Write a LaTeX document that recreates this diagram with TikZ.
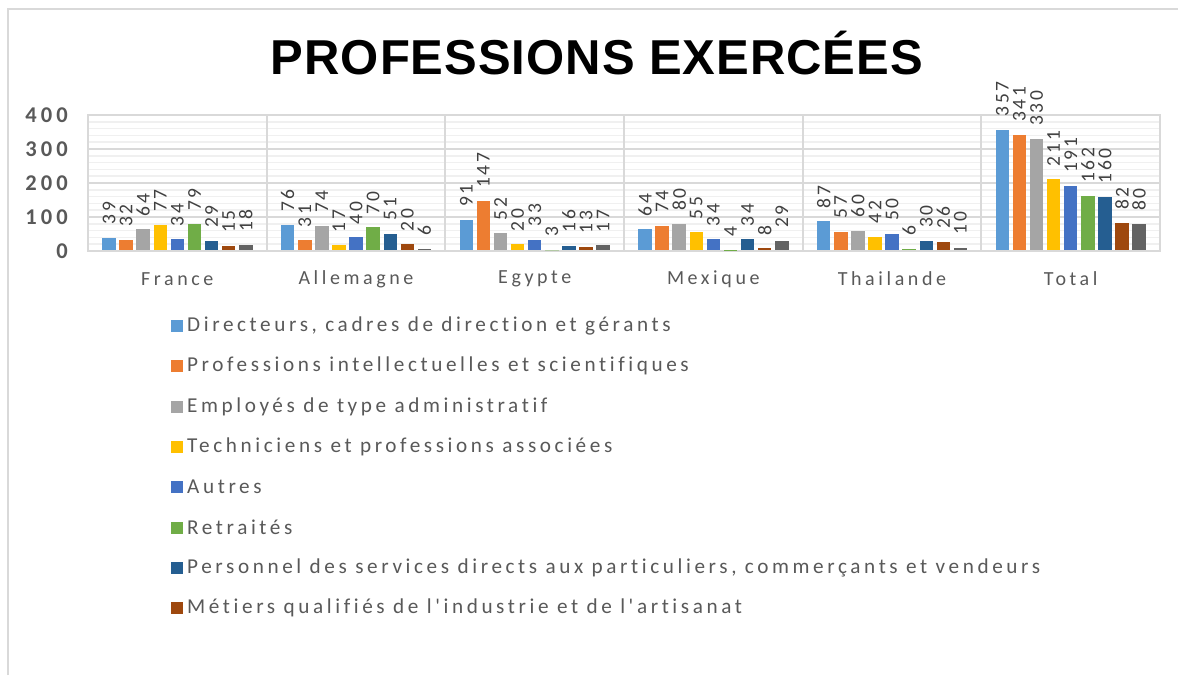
\documentclass[tikz,border=0pt]{standalone}
\usepackage{fontspec}
\setmainfont{Carlito}
\newfontfamily\titlefont{Liberation Sans}[LetterSpace=2]
\newfontfamily\lblfont{Carlito}[LetterSpace=14]
\newfontfamily\legfont{Carlito}[LetterSpace=17,Ligatures={TeXOff,NoCommon}]
\newfontfamily\axfont{Carlito}[LetterSpace=18]
\definecolor{ser0}{HTML}{5B9BD5}
\definecolor{ser1}{HTML}{ED7D31}
\definecolor{ser2}{HTML}{A5A5A5}
\definecolor{ser3}{HTML}{FFC000}
\definecolor{ser4}{HTML}{4472C4}
\definecolor{ser5}{HTML}{70AD47}
\definecolor{ser6}{HTML}{255E91}
\definecolor{ser7}{HTML}{9E480E}
\definecolor{ser8}{HTML}{636363}
\definecolor{txtgray}{HTML}{595959}
\definecolor{lblgray}{HTML}{404040}
\definecolor{majorc}{HTML}{D9D9D9}
\definecolor{minorc}{HTML}{F0F0F0}
\tikzset{
  framel/.style={draw=majorc, line width=2pt},
  majorgrid/.style={draw=majorc, line width=1.8pt},
  minorgrid/.style={draw=minorc, line width=1.6pt},
  datalbl/.style={rotate=90, anchor=west, inner sep=0pt, text=lblgray, font=\lblfont\fontsize{19.5}{19.5}\selectfont},
  axlbl/.style={anchor=east, inner sep=0pt, text=txtgray, font=\axfont\bfseries\fontsize{22.5}{22.5}\selectfont},
  catlbl/.style={inner sep=0pt, text=txtgray, font=\axfont\fontsize{20}{20}\selectfont},
  legsq/.style={minimum size=12pt, inner sep=0pt, draw=none},
  legtxt/.style={anchor=west, inner sep=0pt, text=txtgray, font=\legfont\fontsize{21.2}{21.2}\selectfont},
  titlelbl/.style={anchor=base, inner sep=0pt, text=black, font=\titlefont\bfseries\fontsize{49}{49}\selectfont}
}
\begin{document}
\begin{tikzpicture}[x=1pt,y=-1pt]
\useasboundingbox (0,0) rectangle (1178,675);
\fill[white] (0,0) rectangle (1178,675);
% chart frame
\draw[framel] (8,675) -- (8,9) -- (1178,9);
% title
\node[titlelbl] (title) at (597,74.5) {PROFESSIONS EXERCÉES};
% minor gridlines
\foreach \k in {1,...,19} {\draw[minorgrid] (88,{251-6.8*\k}) -- (1160,{251-6.8*\k});}
% major gridlines
\foreach \k in {0,...,4} {\draw[majorgrid] (88,{251-34*\k}) -- (1160,{251-34*\k});}
\foreach \i in {0,...,6} {\draw[majorgrid] ({88+178.667*\i},114) -- ({88+178.667*\i},252);}
% axis labels
\node[axlbl] (y400) at (68,115) {400};
\node[axlbl] (y300) at (68,149) {300};
\node[axlbl] (y200) at (68,183) {200};
\node[axlbl] (y100) at (68,217) {100};
\node[axlbl] (y0) at (68,251) {0};
% bars and labels
\foreach \c/\vals in {0/{39,32,64,77,34,79,29,15,18},
                      1/{76,31,74,17,40,70,51,20,6},
                      2/{91,147,52,20,33,3,16,13,17},
                      3/{64,74,80,55,34,4,34,8,29},
                      4/{87,57,60,42,50,6,30,26,10},
                      5/{357,341,330,211,191,162,160,82,80}} {
  \foreach \v [count=\j from 0] in \vals {
    \pgfmathsetmacro\bx{88+178.667*\c+21+17.1*\j}
    \fill[fill=ser\j] ({\bx-6.75},250) rectangle ({\bx+6.75},{251-0.34*\v});
    \node[datalbl] (l\c-\j) at (\bx,{251-0.34*\v-13}) {\v};
  }
}
% category labels
\node[catlbl] (cat0) at (177.3,279) {France};
\node[catlbl] (cat1) at (356,279) {Allemagne};
\node[catlbl] (cat2) at (534.7,279) {Egypte};
\node[catlbl] (cat3) at (713.3,279) {Mexique};
\node[catlbl] (cat4) at (892,279) {Thailande};
\node[catlbl] (cat5) at (1070.7,279) {Total};
% legend
\node[legsq, fill=ser0] (q0) at (177,326) {};
\node[legtxt] (t0) at (187,326) {Directeurs, cadres de direction et gérants};
\node[legsq, fill=ser1] (q1) at (177,366.3) {};
\node[legtxt] (t1) at (187,366.3) {Professions intellectuelles et scientifiques};
\node[legsq, fill=ser2] (q2) at (177,406.6) {};
\node[legtxt] (t2) at (187,406.6) {Employés de type administratif};
\node[legsq, fill=ser3] (q3) at (177,446.9) {};
\node[legtxt] (t3) at (187,446.9) {Techniciens et professions associées};
\node[legsq, fill=ser4] (q4) at (177,487.2) {};
\node[legtxt] (t4) at (187,487.2) {Autres};
\node[legsq, fill=ser5] (q5) at (177,527.5) {};
\node[legtxt] (t5) at (187,527.5) {Retraités};
\node[legsq, fill=ser6] (q6) at (177,567.8) {};
\node[legtxt] (t6) at (187,567.8) {Personnel des services directs aux particuliers, commerçants et vendeurs};
\node[legsq, fill=ser7] (q7) at (177,608.1) {};
\node[legtxt] (t7) at (187,608.1) {Métiers qualifiés de l'industrie et de l'artisanat};
\end{tikzpicture}
\end{document}
